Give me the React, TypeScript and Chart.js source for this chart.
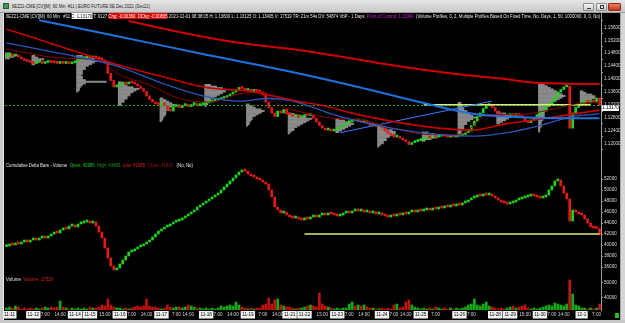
import React, { useEffect, useLayoutEffect, useRef } from "react";
import { Chart, registerables } from "chart.js";
Chart.register(...registerables);

const FONT = '"Liberation Sans", Arial, sans-serif';

// ---- price closes (60 min bars, resampled) ----
const priceFirstOpen = 1.147;
const closes = [
  1.1473, 1.1476, 1.1471, 1.1473, 1.1468, 1.1462, 1.1457, 1.1454, 1.1451, 1.1448,
  1.1451, 1.1454, 1.1448, 1.1451, 1.1454, 1.1451, 1.145, 1.1448, 1.1451, 1.1448,
  1.1451, 1.1447, 1.145, 1.1454, 1.1459, 1.1462, 1.1465, 1.1468, 1.1465, 1.1468,
  1.1465, 1.1462, 1.1459, 1.1451, 1.1417, 1.1395, 1.1375, 1.1378, 1.1384, 1.1387,
  1.1384, 1.1389, 1.1387, 1.1384, 1.1378, 1.137, 1.1361, 1.1347, 1.1336, 1.1328,
  1.1322, 1.132, 1.1325, 1.1317, 1.1305, 1.13, 1.1314, 1.132, 1.1311, 1.1317,
  1.132, 1.1314, 1.132, 1.1322, 1.1317, 1.132, 1.1322, 1.1325, 1.1328, 1.1331,
  1.1333, 1.1336, 1.1339, 1.1342, 1.1347, 1.1353, 1.1359, 1.1367, 1.1373, 1.137,
  1.1364, 1.1367, 1.1361, 1.1364, 1.1361, 1.1359, 1.135, 1.1328, 1.1311, 1.1294,
  1.1283, 1.13, 1.1294, 1.1305, 1.1291, 1.1289, 1.1283, 1.1286, 1.128, 1.1283,
  1.1289, 1.1286, 1.1289, 1.1278, 1.1266, 1.1255, 1.1247, 1.1241, 1.1244, 1.1238,
  1.1241, 1.1247, 1.1252, 1.1258, 1.1264, 1.1266, 1.1272, 1.1269, 1.1272, 1.1266,
  1.1269, 1.1264, 1.1255, 1.1258, 1.1252, 1.1255, 1.1247, 1.1238, 1.123, 1.1224,
  1.1219, 1.1222, 1.1216, 1.121, 1.1205, 1.1196, 1.1202, 1.1205, 1.1208, 1.121,
  1.1216, 1.1219, 1.1216, 1.1222, 1.1219, 1.1222, 1.1224, 1.1222, 1.1219, 1.1222,
  1.1219, 1.1222, 1.1224, 1.1227, 1.1233, 1.1238, 1.1255, 1.1269, 1.1283, 1.1294,
  1.1308, 1.1317, 1.132, 1.1311, 1.13, 1.1291, 1.1286, 1.1283, 1.1286, 1.1289,
  1.1286, 1.1291, 1.1286, 1.128, 1.1269, 1.1264, 1.1272, 1.128, 1.1289, 1.1297,
  1.1305, 1.1314, 1.1322, 1.1331, 1.1345, 1.1359, 1.1367, 1.1375, 1.1378, 1.1247,
  1.1294, 1.1311, 1.1322, 1.1328, 1.1333, 1.1325, 1.1331, 1.1328, 1.13405, 1.1317,
];

// ---- cumulative delta closes ----
const deltaFirstOpen = 39700;
const deltaCloses = [
  39820, 40180, 40000, 40360, 40180, 40550, 40730, 40550, 40910, 41090,
  40910, 41270, 41460, 41270, 41640, 42000, 42360, 42180, 42730, 43090,
  42910, 43450, 43640, 43270, 43820, 44000, 44180, 44360, 44000, 44180,
  43450, 42360, 41270, 39460, 37640, 36180, 35460, 35820, 36550, 37270,
  38000, 38730, 38910, 39270, 39640, 39820, 40180, 40550, 40910, 41460,
  42000, 42550, 42910, 43270, 43450, 43820, 44180, 44360, 44550, 44910,
  45270, 45640, 46000, 46360, 46910, 47270, 47640, 48000, 48360, 48730,
  49090, 49450, 50000, 50550, 51090, 51640, 52180, 52730, 53270, 53640,
  53450, 52910, 52550, 52360, 52000, 51820, 51450, 51090, 50000, 48730,
  46910, 46360, 45820, 46000, 45460, 45090, 44910, 45090, 44730, 44550,
  44910, 44730, 45090, 45270, 45090, 45460, 45640, 45460, 45820, 45640,
  45460, 45270, 45460, 45820, 46000, 45820, 46180, 46360, 46180, 46360,
  46000, 46180, 45820, 46000, 45640, 45820, 45460, 45270, 45090, 45460,
  45270, 45640, 45460, 45820, 45640, 46000, 46180, 46000, 46360, 46180,
  46360, 46550, 46360, 46730, 46550, 46910, 46730, 47090, 46910, 47270,
  47090, 47460, 47270, 47640, 47820, 48180, 48550, 48730, 49090, 48910,
  49270, 49090, 49270, 48910, 48550, 48180, 47820, 47640, 47460, 47640,
  47820, 48180, 48360, 48550, 48730, 48910, 49090, 48910, 48730, 48550,
  48730, 49090, 50000, 50730, 51640, 51820, 50730, 49450, 48360, 44360,
  46360, 46000, 45640, 45460, 44730, 44000, 43270, 43090, 42995, 41830,
];

// ---- volume ----
const volumes = [
  33330, 34000, 33330, 34670, 34000, 32670, 33330, 32670, 33330, 32670,
  33330, 32670, 33330, 34000, 33330, 34000, 33330, 34000, 38000, 34000,
  33330, 32670, 33330, 32670, 33330, 32670, 33330, 32670, 34000, 33330,
  33330, 34000, 35330, 34670, 39330, 35330, 34000, 33330, 33330, 32670,
  33330, 32670, 33330, 34000, 34670, 34000, 34670, 39330, 34670, 34000,
  34000, 33330, 32670, 33330, 35330, 34000, 33330, 34000, 34000, 33330,
  34000, 35330, 34670, 34000, 33330, 33330, 32670, 33330, 32670, 33330,
  32670, 33330, 34670, 34000, 34670, 35330, 34670, 37330, 35330, 34000,
  33330, 32670, 33330, 32670, 33330, 33330, 35330, 36000, 40000, 36000,
  38670, 39330, 35330, 34670, 34000, 34000, 33330, 32670, 33330, 33330,
  34000, 34670, 35330, 34670, 34000, 43330, 36000, 34670, 34000, 33330,
  32670, 33330, 32670, 33330, 33330, 36000, 37330, 34670, 35330, 34670,
  35330, 34000, 33330, 33330, 32670, 32670, 33330, 32670, 33330, 32670,
  35330, 36000, 33330, 34000, 37330, 38670, 35330, 34000, 33330, 32670,
  33330, 32670, 33330, 32670, 34000, 33330, 32670, 33330, 32670, 33330,
  32670, 33330, 32670, 33330, 34000, 35330, 36000, 39330, 35330, 34670,
  36000, 37330, 34670, 34000, 33330, 32670, 33330, 32670, 33330, 34000,
  34670, 33330, 34000, 34670, 35330, 33330, 32670, 33330, 32670, 33330,
  34000, 34670, 35330, 34670, 36670, 36000, 35330, 34670, 36000, 52000,
  42670, 35330, 34670, 33330, 33330, 32670, 33330, 32670, 33330, 36000,
];

// ---- moving averages / studies (sparse points: bar index, price) ----
const slowRedIdx = [41, 58, 78, 98, 115, 129, 151, 166, 179, 199];
const slowRed = [1.158, 1.1546, 1.1512, 1.149, 1.1465, 1.1443, 1.1415, 1.1401, 1.1387, 1.1384];
const slowBlueIdx = [11, 36, 65, 95, 118, 140, 157, 168, 185, 199];
const slowBlue = [1.1582, 1.1535, 1.1479, 1.1423, 1.1375, 1.1325, 1.1291, 1.1283, 1.1278, 1.1278];
const midRedIdx = [0, 5, 16, 37, 54, 67, 82, 99, 106, 118, 134, 145, 156, 168, 179, 199];
const midRed = [1.1554, 1.154, 1.1507, 1.1445, 1.1403, 1.1373, 1.1361, 1.1328, 1.1317, 1.1289, 1.1261, 1.1247, 1.1241, 1.1261, 1.1275, 1.1303];
const midBlueIdx = [0, 18, 36, 54, 67, 78, 88, 95, 112, 129, 145, 157, 168, 179, 190, 199];
const midBlue = [1.1512, 1.1479, 1.1443, 1.1381, 1.1345, 1.1331, 1.1339, 1.1333, 1.1283, 1.1247, 1.1227, 1.1222, 1.1233, 1.1255, 1.1283, 1.1291];
const fastRedIdx = [0, 18, 31, 37, 48, 58, 68, 78, 86, 92, 99, 109, 119, 132, 142, 152, 162, 172, 182, 191, 199];
const fastRed = [1.1493, 1.1465, 1.1457, 1.1417, 1.1381, 1.1339, 1.1328, 1.1353, 1.1359, 1.1317, 1.1297, 1.1278, 1.1272, 1.1241, 1.1227, 1.1227, 1.1289, 1.1289, 1.1303, 1.1322, 1.1328];
const trendIdx = [112, 163];
const trend = [1.1233, 1.1331];
const priceLevelIdx = [140, 196];
const priceLevel = 1.132;
const deltaLevelIdx = [100, 199];
const deltaLevel = 42000;

// ---- volume profiles (one per session) ----
const profileStart = [0, 9, 24, 38, 52, 67, 81, 95, 111, 125, 140, 152, 165, 179, 193];
const profileTop = [1.1479, 1.1471, 1.1471, 1.1389, 1.1339, 1.1381, 1.132, 1.1291, 1.1275, 1.1255, 1.1233, 1.1325, 1.1297, 1.1387, 1.1361];
const profileBin = 0.0005;
const profileRows = [
  [2, 4, 3, 1.5],
  [1, 2, 4, 3, 2, 1],
  [2, 4, 6, 7, 6, 5, 4, 3, 3, 2, 2, 2, 1.5, 2, 2, 3, 10, 3, 2, 1.5, 1, 1, 0.5],
  [1, 2, 3, 5, 7, 6, 5, 4, 4, 3, 3, 2, 2, 1, 1],
  [1, 2, 3, 4, 5, 4, 3, 3, 2, 2, 2, 1.5, 1, 1, 0.5],
  [2, 4, 6, 7, 7, 6, 5, 4, 3, 2, 2, 1, 1, 0.5],
  [1, 2, 3, 5, 6, 5, 4, 3, 2, 2, 1.5, 1, 1, 0.5],
  [2, 4, 6, 8, 7, 6, 5, 4, 3, 2, 2, 1, 0.5],
  [1, 3, 5, 6, 5, 4, 3, 2, 1],
  [1, 2, 3, 5, 6, 6, 5, 4, 3, 3, 2, 2, 1, 0.5],
  [2, 4, 6, 5, 3, 1],
  [1, 1, 1.5, 2, 2, 3, 3, 4, 5, 6, 5, 4, 3, 3, 2, 2, 2, 1.5, 1, 1, 0.5],
  [1, 3, 5, 5, 4, 3, 2, 1],
  [1, 2, 3, 4, 5, 6, 7, 8, 9, 8, 7, 6, 5, 4, 4, 3, 3, 3, 2, 2, 2, 2, 1.5, 1.5, 1, 1, 1, 1, 0.5, 0.5, 0.5],
  [1, 2, 4, 5, 5, 4, 3, 2, 1],
];

// ---- axes ----
const priceTicks = [1.12, 1.124, 1.128, 1.132, 1.136, 1.14, 1.144, 1.148, 1.152, 1.156];
const deltaTicks = [36000, 38000, 40000, 42000, 44000, 46000, 48000, 50000, 52000];
const volumeTicks = [40000, 50000];
const xTickIdx = [1, 9, 13, 18, 23, 28, 33, 38, 42, 47, 52, 57, 61, 67, 71, 76, 81, 86, 91, 95, 100, 106, 111, 115, 120, 126, 130, 134, 139, 144, 152, 156, 164, 169, 174, 179, 183, 187, 193, 198];
const xTickText = ["11-11", "11-12", "7:00", "14:00", "11-14", "11-15", "15:00", "11-16", "7:00", "14:00", "11-17", "7:00", "14:00", "11-18", "7:00", "14:00", "11-19", "7:00", "14:00", "11-21", "11-22", "15:00", "11-23", "7:00", "14:00", "11-24", "7:00", "14:00", "11-25", "7:00", "11-26", "7:00", "11-28", "11-29", "15:00", "11-30", "7:00", "14:00", "12-1", "7:00"];

const titleText = "6EZ21-CME [CV][M]  60 Min  #11 | EURO FUTURE 6E Dec 2021 (Dec21)";
const deltaLegendVals = ["42995", "43483", "41985", "41830"];
const lastVolumeText = "17519";

const UP = "#1ed21e";
const DOWN = "#e41a1a";
const UPV = "#13ab13";
const DOWNV = "#c21212";

const N = closes.length;

function pts(idx: number[], vals: number[]) {
  return idx.map((x, i) => ({ x, y: vals[i] }));
}

function isDateLabel(i: number) {
  return !!(xTickText[i] && xTickText[i].includes("-"));
}

function xAxis(show: boolean) {
  return {
    type: "linear" as const,
    min: -0.5,
    max: N - 0.5,
    offset: false,
    display: show,
    grid: { display: false, drawTicks: false, tickLength: 0 },
    border: { display: false },
    afterBuildTicks: (s: any) => {
      s.ticks = xTickIdx.map((v) => ({ value: v }));
    },
    afterFit: (s: any) => {
      s.height = show ? 10 : 0;
      s.paddingLeft = 0;
      s.paddingRight = 0;
    },
    ticks: {
      autoSkip: false,
      maxRotation: 0,
      minRotation: 0,
      padding: 2,
      font: { size: 4.6, family: FONT },
      color: (c: any) => (isDateLabel(c.index) ? "#000000" : "#d4d4d4"),
      showLabelBackdrop: (c: any) => isDateLabel(c.index),
      backdropColor: "#f2f2f2",
      backdropPadding: { x: 1.5, y: 1 },
      callback: (_v: any, i: number) => xTickText[i],
    },
  };
}

function yAxis(min: number, max: number, ticks: number[], fmt: (v: number) => string) {
  return {
    type: "linear" as const,
    position: "right" as const,
    min,
    max,
    beginAtZero: false,
    afterBuildTicks: (s: any) => {
      s.ticks = ticks.map((v) => ({ value: v }));
    },
    afterFit: (s: any) => {
      s.width = 24;
      s.paddingTop = 0;
      s.paddingBottom = 0;
    },
    grid: { display: true, drawOnChartArea: false, drawTicks: true, tickLength: 2, color: "#9a9a9a" },
    border: { display: true, color: "#9a9a9a", width: 1 },
    ticks: {
      autoSkip: false,
      color: "#dcdcdc",
      padding: 1,
      font: { size: 4.6, family: FONT },
      callback: (v: any) => fmt(Number(v)),
    },
  };
}

function baseOptions(showX: boolean, y: any) {
  return {
    responsive: false,
    maintainAspectRatio: false,
    animation: false as const,
    events: [] as any[],
    layout: { padding: { left: 5, right: 0, top: 0, bottom: 0 } },
    plugins: { legend: { display: false }, tooltip: { enabled: false } },
    scales: { x: xAxis(showX), y },
  };
}

function lineDs(data: any[], color: string, width: number, order: number, extra: any = {}) {
  return {
    type: "line" as const,
    data,
    borderColor: color,
    borderWidth: width,
    pointRadius: 0,
    fill: false,
    tension: 0.4,
    cubicInterpolationMode: "monotone" as const,
    order,
    ...extra,
  };
}

function FitText(props: { left: number; top: number; width: number; style?: any; children: any }) {
  const ref = useRef<HTMLDivElement>(null);
  useLayoutEffect(() => {
    const el = ref.current;
    if (!el) return;
    el.style.transform = "none";
    const w = el.scrollWidth;
    if (w > 0) el.style.transform = `scaleX(${props.width / w})`;
  }, [props.width]);
  return (
    <div
      ref={ref}
      style={{
        position: "absolute",
        left: props.left,
        top: props.top,
        whiteSpace: "pre",
        transformOrigin: "0 0",
        fontFamily: FONT,
        ...props.style,
      }}
    >
      {props.children}
    </div>
  );
}

export default function App() {
  const priceRef = useRef<HTMLCanvasElement>(null);
  const deltaRef = useRef<HTMLCanvasElement>(null);
  const volRef = useRef<HTMLCanvasElement>(null);

  useEffect(() => {
    Chart.defaults.font.family = FONT;
    const opens = [priceFirstOpen, ...closes.slice(0, -1)];
    const dOpens = [deltaFirstOpen, ...deltaCloses.slice(0, -1)];
    const charts: Chart[] = [];

    const profileData: any[] = [];
    profileRows.forEach((rows, p) => {
      rows.forEach((len, k) => {
        profileData.push({
          y: profileTop[p] - k * profileBin,
          x: [profileStart[p] - 0.5, profileStart[p] - 0.5 + len],
        });
      });
    });

    const lastPrice = closes[N - 1];

    charts.push(
      new Chart(priceRef.current!, {
        type: "bar",
        data: {
          datasets: [
            lineDs(pts(slowRedIdx, slowRed), "#d30000", 2, 0),
            lineDs(pts(slowBlueIdx, slowBlue), "#1f72e0", 2, 0),
            lineDs(pts(midRedIdx, midRed), "#c80000", 1.6, 0),
            lineDs(pts(midBlueIdx, midBlue), "#2a55b8", 1.3, 0),
            lineDs(pts(fastRedIdx, fastRed), "#8c0000", 1, 0),
            lineDs(pts(trendIdx, trend), "#3a7cff", 1, 0, { tension: 0 }),
            lineDs(priceLevelIdx.map((x) => ({ x, y: priceLevel })), "#d6f07a", 1.5, 0, { tension: 0 }),
            lineDs([{ x: -0.5, y: lastPrice }, { x: N - 0.5, y: lastPrice }], "#10c010", 1, 0, {
              tension: 0,
              borderDash: [2, 2],
            }),
            {
              type: "bar" as const,
              data: closes.map((c, i) => ({ x: i, y: [opens[i], c] })),
              backgroundColor: closes.map((c, i) => (c >= opens[i] ? UP : DOWN)),
              barThickness: 2,
              minBarLength: 2,
              grouped: false,
              borderWidth: 0,
              order: 1,
            },
            {
              type: "bar" as const,
              indexAxis: "y" as const,
              data: profileData,
              backgroundColor: "rgba(150,150,150,0.9)",
              barThickness: 1.4,
              grouped: false,
              borderWidth: 0,
              order: 2,
            },
          ] as any,
        },
        options: baseOptions(false, yAxis(1.11796, 1.15824, priceTicks, (v) => v.toFixed(5))) as any,
      })
    );

    charts.push(
      new Chart(deltaRef.current!, {
        type: "bar",
        data: {
          datasets: [
            lineDs(deltaLevelIdx.map((x) => ({ x, y: deltaLevel })), "#d6f07a", 1.5, 0, { tension: 0 }),
            {
              type: "bar" as const,
              data: deltaCloses.map((c, i) => ({ x: i, y: [dOpens[i], c] })),
              backgroundColor: deltaCloses.map((c, i) => (c >= dOpens[i] ? UP : DOWN)),
              barThickness: 2,
              minBarLength: 2,
              grouped: false,
              borderWidth: 0,
              order: 1,
            },
          ] as any,
        },
        options: baseOptions(false, yAxis(35093, 56000, deltaTicks, (v) => String(v))) as any,
      })
    );

    charts.push(
      new Chart(volRef.current!, {
        type: "bar",
        data: {
          datasets: [
            {
              type: "bar" as const,
              data: volumes.map((v, i) => ({ x: i, y: v })),
              backgroundColor: volumes.map((_v, i) => (closes[i] >= opens[i] ? UPV : DOWNV)),
              barThickness: 2,
              grouped: false,
              borderWidth: 0,
              order: 1,
            },
          ] as any,
        },
        options: baseOptions(true, yAxis(32000, 57333, volumeTicks, (v) => String(v))) as any,
      })
    );

    return () => charts.forEach((c) => c.destroy());
  }, []);

  const lastPrice = closes[N - 1];

  return (
    <div
      style={{
        position: "fixed",
        left: 0,
        top: 0,
        width: 625,
        height: 323,
        background: "#000",
        overflow: "hidden",
        fontFamily: FONT,
      }}
    >
      <canvas ref={priceRef} width={625} height={144} style={{ position: "absolute", left: 0, top: 13 }} />
      <canvas ref={deltaRef} width={625} height={115} style={{ position: "absolute", left: 0, top: 157 }} />
      <canvas ref={volRef} width={625} height={48} style={{ position: "absolute", left: 0, top: 272 }} />

      {/* title bar */}
      <div
        style={{
          position: "absolute",
          left: 0,
          top: 0,
          width: 625,
          height: 13,
          background: "linear-gradient(#e6e6e6, #c9c9c9)",
          borderBottom: "1px solid #9a9a9a",
          boxSizing: "border-box",
        }}
      >
        <div style={{ position: "absolute", left: 3, top: 3, width: 6, height: 6, background: "#3c9a4a", border: "1px solid #2a5a30", boxSizing: "border-box" }} />
        <FitText left={12} top={3} width={138} style={{ fontSize: 5.5, color: "#1a1a1a", lineHeight: "6px" }}>
          {titleText}
        </FitText>
        <div style={{ position: "absolute", left: 583, top: 3, width: 11, height: 8, background: "linear-gradient(#f4f4f4,#cfcfcf)", border: "1px solid #8a8a8a", boxSizing: "border-box", borderRadius: 1 }}>
          <div style={{ position: "absolute", left: 3, top: 4, width: 4, height: 1, background: "#333" }} />
        </div>
        <div style={{ position: "absolute", left: 596, top: 3, width: 11, height: 8, background: "linear-gradient(#f4f4f4,#cfcfcf)", border: "1px solid #8a8a8a", boxSizing: "border-box", borderRadius: 1 }}>
          <div style={{ position: "absolute", left: 3, top: 1, width: 4, height: 4, border: "1px solid #333", boxSizing: "border-box" }} />
        </div>
        <div style={{ position: "absolute", left: 608, top: 3, width: 13, height: 8, background: "linear-gradient(#f08060,#c8351c)", border: "1px solid #8a2a1a", boxSizing: "border-box", borderRadius: 1 }} />
      </div>

      {/* info line */}
      <FitText left={6} top={13} width={594} style={{ fontSize: 5.5, color: "#e8e8e8", lineHeight: "6px" }}>
        <span>{"6EZ21-CME [CV][M]  60 Min   #11 "}</span>
        <span style={{ background: "#ffffff", color: "#000" }}>{"C: " + lastPrice.toFixed(5)}</span>
        <span>{" T: 9127 "}</span>
        <span style={{ background: "#e00000", color: "#ffffff" }}>{"Chg: -0.00380  DChg: -0.00805"}</span>
        <span>{" 2021-12-01 08:38:05 H: 1.13600 L: 1.13125 O: 1.13405 V: 17519 TR: 21m 54s DV: 54874 VbP - 1 Days: "}</span>
        <span style={{ color: "#d020d0" }}>{"Point of Control: 1.13340"}</span>
        <span>{"  (Volume Profiles, 0, 2, Multiple Profiles Based On Fixed Time, No, Days, 1, 50, 1000000, 0, 0, No)"}</span>
      </FitText>

      {/* delta legend */}
      <FitText left={6} top={162} width={187} style={{ fontSize: 5.5, color: "#e8e8e8", lineHeight: "6px" }}>
        <span>{"Cumulative Delta Bars - Volume  "}</span>
        <span style={{ color: "#20d020" }}>{"Open: " + deltaLegendVals[0]}</span>
        <span style={{ color: "#10a010" }}>{"  High: " + deltaLegendVals[1]}</span>
        <span style={{ color: "#e02020" }}>{"  Low: " + deltaLegendVals[2]}</span>
        <span style={{ color: "#a01010" }}>{"  Close: " + deltaLegendVals[3]}</span>
        <span>{"   (No, No)"}</span>
      </FitText>

      {/* volume legend */}
      <FitText left={6} top={276} width={47} style={{ fontSize: 5.5, color: "#e8e8e8", lineHeight: "6px" }}>
        <span>{"Volume  "}</span>
        <span style={{ color: "#e02020" }}>{"Volume: " + lastVolumeText}</span>
      </FitText>

      {/* current price marker */}
      <div
        style={{
          position: "absolute",
          left: 602,
          top: 105,
          width: 17,
          height: 6,
          background: "#ffffff",
          color: "#000",
          fontSize: 4.6,
          lineHeight: "6px",
          textAlign: "center",
          fontFamily: FONT,
        }}
      >
        {lastPrice.toFixed(5)}
      </div>

      {/* window frame */}
      <div style={{ position: "absolute", left: 0, top: 13, width: 4, height: 310, background: "#c8c8c8", borderRight: "1px solid #e8e8e8", boxSizing: "border-box" }} />
      <div style={{ position: "absolute", left: 620, top: 13, width: 5, height: 310, background: "#d6d6d6", borderLeft: "1px solid #a8a8a8", boxSizing: "border-box" }} />
      <div style={{ position: "absolute", left: 0, top: 320, width: 625, height: 3, background: "#c8c8c8" }} />
      <div style={{ position: "absolute", left: 615, top: 313, width: 4, height: 5, background: "#22c022" }} />
    </div>
  );
}
